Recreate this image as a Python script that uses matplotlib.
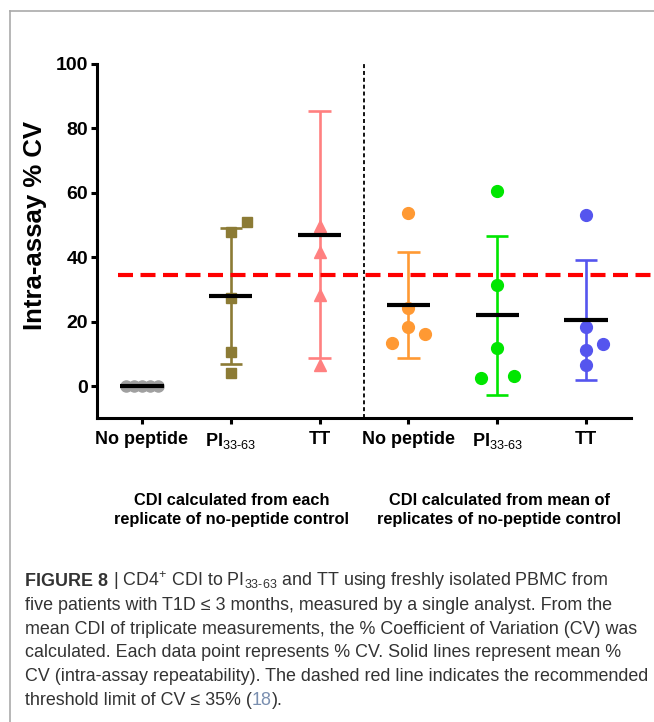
import matplotlib
matplotlib.use('Agg')
import matplotlib.pyplot as plt
import numpy as np
from matplotlib import font_manager
from matplotlib.lines import Line2D

# ---------------- data ----------------
categories = ['No peptide', r'PI$_{\mathrm{33\text{-}63}}$', 'TT',
              'No peptide', r'PI$_{\mathrm{33\text{-}63}}$', 'TT']
each_nopep = [0.0, 0.0, 0.0, 0.0, 0.0]
each_pi = [50.8, 47.7, 27.4, 10.6, 4.0]
each_tt = [109.1, 49.6, 41.5, 28.3, 6.5]
mean_nopep = [53.8, 24.4, 18.5, 16.1, 13.3]
mean_pi = [60.7, 31.5, 11.9, 2.6, 3.1]
mean_tt = [53.0, 18.5, 13.1, 11.2, 6.5]
threshold = 34.5
y_ticks = [0, 20, 40, 60, 80, 100]
group_labels = ['CDI calculated from each\nreplicate of no-peptide control',
                'CDI calculated from mean of\nreplicates of no-peptide control']
y_label = 'Intra-assay % CV'

# ---------------- layout/style ----------------
series = [each_nopep, each_pi, each_tt, mean_nopep, mean_pi, mean_tt]
colors = ['#A0A0A0', '#8C7B35', '#FF8080', '#FF9933', '#00E600', '#5555EE']
markers = ['o', 's', '^', 'o', 'o', 'o']
msizes = [8.0, 7.5, 8.0, 8.5, 8.5, 8.5]
offsets = [[-2, -1, 0, 1, 2], [1, 0, 0, 0, 0], [0, 0, 0, 0, 0],
           [0, 0, 0, 1, -1], [0, 0, 0, -1, 1], [0, 0, 1, 0, 0]]
spacing = [0.09, 0.185, 0.185, 0.185, 0.185, 0.185]

names = {f.name for f in font_manager.fontManager.ttflist}
narrow = 'Liberation Sans Narrow' if 'Liberation Sans Narrow' in names else 'Liberation Sans'
plt.rcParams['font.family'] = ['Liberation Sans', 'DejaVu Sans']
plt.rcParams['mathtext.fontset'] = 'custom'
plt.rcParams['mathtext.rm'] = 'Liberation Sans'
plt.rcParams['mathtext.it'] = 'Liberation Sans:italic'
plt.rcParams['mathtext.bf'] = 'Liberation Sans:bold'

W, H = 654, 722
fig = plt.figure(figsize=(W / 100, H / 100), dpi=100)
ax = fig.add_axes([97.3 / W, 1 - 418.3 / H, 533.4 / W, 354.3 / H])

for i, vals in enumerate(series):
    xs = i + np.array(offsets[i]) * spacing[i]
    ax.plot(xs, vals, ls='none', marker=markers[i], ms=msizes[i],
            color=colors[i], mec=colors[i], zorder=3)
    m = np.mean(vals)
    sd = np.std(vals, ddof=1)
    if sd > 0:
        ax.plot([i, i], [m - sd, m + sd], color=colors[i], lw=1.9, zorder=4,
                solid_capstyle='butt')
        for e in (m - sd, m + sd):
            ax.plot([i - 0.125, i + 0.125], [e, e], color=colors[i], lw=1.9,
                    zorder=4, solid_capstyle='butt')
    ax.plot([i - 0.245, i + 0.245], [m, m], color='black', lw=3.0, zorder=5,
            solid_capstyle='butt')

ax.plot([2.5, 2.5], [-10, 100], color='black', lw=1.3, ls=(0, (2.2, 1.6)),
        zorder=2)
ax.plot([-0.27, 5.73], [threshold, threshold], color='#FF0000', lw=3.0,
        ls=(0, (3.6, 1.8)), zorder=6, clip_on=False)

ax.set_xlim(-0.5, 5.5)
ax.set_ylim(-10, 100)
ax.set_yticks(y_ticks)
ax.set_xticks(range(len(categories)))
ax.set_xticklabels(categories)
for s in ('top', 'right'):
    ax.spines[s].set_visible(False)
for s in ('left', 'bottom'):
    ax.spines[s].set_linewidth(2.2)
ax.spines['left'].set_bounds(-10, 100)
ax.tick_params(axis='both', direction='out', length=4.5, width=2.2, colors='black')
ax.tick_params(axis='y', labelsize=14, pad=2)
ax.tick_params(axis='x', labelsize=13, pad=5)
for t in ax.get_yticklabels() + ax.get_xticklabels():
    t.set_fontweight('bold')

fig.text(35 / W, 1 - 225.5 / H, y_label, rotation=90, ha='center', va='center',
         fontsize=18.5, fontweight='bold')

grp_fs = 13.5 if narrow != 'Liberation Sans' else 11.8
fig.text(232 / W, 1 - 510 / H, group_labels[0], ha='center', va='center',
         fontsize=grp_fs, fontweight='bold', family=[narrow, 'DejaVu Sans'],
         linespacing=1.3, multialignment='center')
fig.text(499 / W, 1 - 510 / H, group_labels[1], ha='center', va='center',
         fontsize=grp_fs, fontweight='bold', family=[narrow, 'DejaVu Sans'],
         linespacing=1.3, multialignment='center')

# frame
fig.add_artist(Line2D([9.5 / W, 1], [1 - 10.5 / H, 1 - 10.5 / H], color='#AAAAAA', lw=1.2))
fig.add_artist(Line2D([9.5 / W, 9.5 / W], [0, 1 - 10.5 / H], color='#AAAAAA', lw=1.2))

# caption
cap_color = '#333333'
cap_fs = 14 if narrow != 'Liberation Sans' else 12.9
cap_fam = [narrow, 'DejaVu Sans']
renderer = fig.canvas.get_renderer()


def width_px(t):
    return t.get_window_extent(renderer=renderer).width


def pieces(x, y, parts):
    for txt, kw in parts:
        t = fig.text(x / W, 1 - y / H, txt, ha='left', va='baseline',
                     fontsize=cap_fs, family=cap_fam, color=kw.get('color', cap_color),
                     fontweight=kw.get('weight', 'normal'))
        x += width_px(t) + kw.get('gap', 0)
    return x


probe1 = fig.text(0, 0, 'x x', fontsize=cap_fs, family=cap_fam)
probe2 = fig.text(0, 0, 'xx', fontsize=cap_fs, family=cap_fam)
space = width_px(probe1) - width_px(probe2)
probe1.remove()
probe2.remove()

x0 = 25
base0 = 586
lh = 23.8
pieces(x0, base0, [('FIGURE 8', {'weight': 'bold', 'gap': space}),
                   (r'| CD4$^{+}$ CDI to PI$_{\mathrm{33\text{-}63}}$ and TT using freshly isolated PBMC from', {})])
caption_lines = ['five patients with T1D \u2264 3 months, measured by a single analyst. From the',
                 'mean CDI of triplicate measurements, the % Coefficient of Variation (CV) was',
                 'calculated. Each data point represents % CV. Solid lines represent mean %',
                 'CV (intra-assay repeatability). The dashed red line indicates the recommended']
for k, line in enumerate(caption_lines):
    fig.text(x0 / W, 1 - (base0 + lh * (k + 1)) / H, line, ha='left', va='baseline',
             fontsize=cap_fs, family=cap_fam, color=cap_color)
pieces(x0, base0 + lh * 5, [('threshold limit of CV \u2264 35% (', {}),
                            ('18', {'color': '#7A8FB0'}),
                            (').', {})])

fig.savefig('out.png', dpi=100)
